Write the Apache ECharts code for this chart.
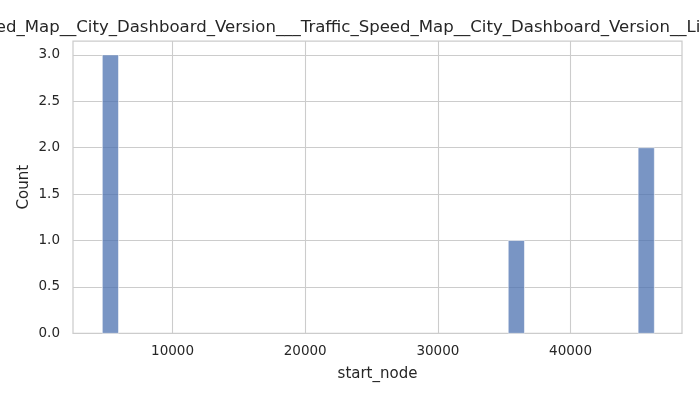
<!DOCTYPE html>
<html>
<head>
<meta charset="utf-8">
<script src="https://cdn.jsdelivr.net/npm/echarts@6/dist/echarts.min.js"></script>
<style>html,body{margin:0;padding:0;background:#fff}#c{width:700px;height:400px}</style>
</head>
<body>
<div id="c"></div>
<script>
// ---- data ----
const titleText = "Traffic_Speed_Map__City_Dashboard_Version___Traffic_Speed_Map__City_Dashboard_Version__Links";
const xName = "start_node";
const yName = "Count";
const binLeft = [4708, 35303, 45093];
const binWidth = 1224;
const counts = [3, 1, 2];
const xTicks = [10000, 20000, 30000, 40000];
const yTicks = [0, 0.5, 1.0, 1.5, 2.0, 2.5, 3.0];
const xRange = [2500, 48400];
const yRange = [0, 3.15];

// ---- layout helpers ----
const FONT = '"DejaVu Sans", sans-serif';
const ctx = document.createElement('canvas').getContext('2d');
ctx.font = '14px "DejaVu Sans"';
const spanW = ctx.measureText("Traffic_Speed_Map__City_Dashboard_Version__").width;
const titleSize = 14 * 386 / spanW;
ctx.font = titleSize + 'px "DejaVu Sans"';
const prefixW = ctx.measureText("Traffic_Speed_Map__City_Dashboard_Version___").width;
const titleLeft = 300.7 - prefixW;

const barData = binLeft.map((l, i) => [l, l + binWidth, counts[i]]);

const chart = echarts.init(document.getElementById('c'), null, {renderer: 'canvas'});
chart.setOption({
  animation: false,
  backgroundColor: '#ffffff',
  title: {
    text: titleText,
    left: titleLeft,
    top: 19,
    padding: 0,
    textStyle: {fontFamily: FONT, fontSize: titleSize, fontWeight: 'normal', color: '#262626'}
  },
  grid: {
    left: 73, right: 18, top: 41, bottom: 66.7,
    show: true, borderColor: '#cccccc', borderWidth: 1.25, backgroundColor: 'transparent'
  },
  xAxis: {
    type: 'value',
    min: xRange[0], max: xRange[1],
    name: xName, nameLocation: 'middle', nameGap: 33, nameMoveOverlap: false,
    nameTextStyle: {fontFamily: FONT, fontSize: 15, color: '#262626'},
    axisLine: {show: false},
    axisTick: {show: false, customValues: xTicks},
    axisLabel: {customValues: xTicks, margin: 11, fontFamily: FONT, fontSize: 13.5, color: '#262626',
      formatter: v => String(v)},
    splitLine: {show: true, lineStyle: {color: '#cccccc', width: 1.1}}
  },
  yAxis: {
    type: 'value',
    min: yRange[0], max: yRange[1],
    name: yName, nameLocation: 'middle', nameGap: 41, nameRotate: 90, nameMoveOverlap: false,
    nameTextStyle: {fontFamily: FONT, fontSize: 15, color: '#262626'},
    axisLine: {show: false},
    axisTick: {show: false, customValues: yTicks},
    axisLabel: {customValues: yTicks, margin: 13, fontFamily: FONT, fontSize: 13.5, color: '#262626',
      formatter: v => v.toFixed(1)},
    splitLine: {show: true, lineStyle: {color: '#cccccc', width: 1.1}}
  },
  series: [{
    type: 'custom',
    data: barData,
    encode: {x: [0, 1], y: 2},
    renderItem: function (params, api) {
      const p0 = api.coord([api.value(0), api.value(2)]);
      const p1 = api.coord([api.value(1), 0]);
      return {
        type: 'rect',
        shape: {x: p0[0], y: p0[1], width: p1[0] - p0[0], height: p1[1] - p0[1]},
        style: {fill: '#4c72b0', opacity: 0.75, stroke: '#ffffff', lineWidth: 0.75}
      };
    }
  }]
});
</script>
</body>
</html>
